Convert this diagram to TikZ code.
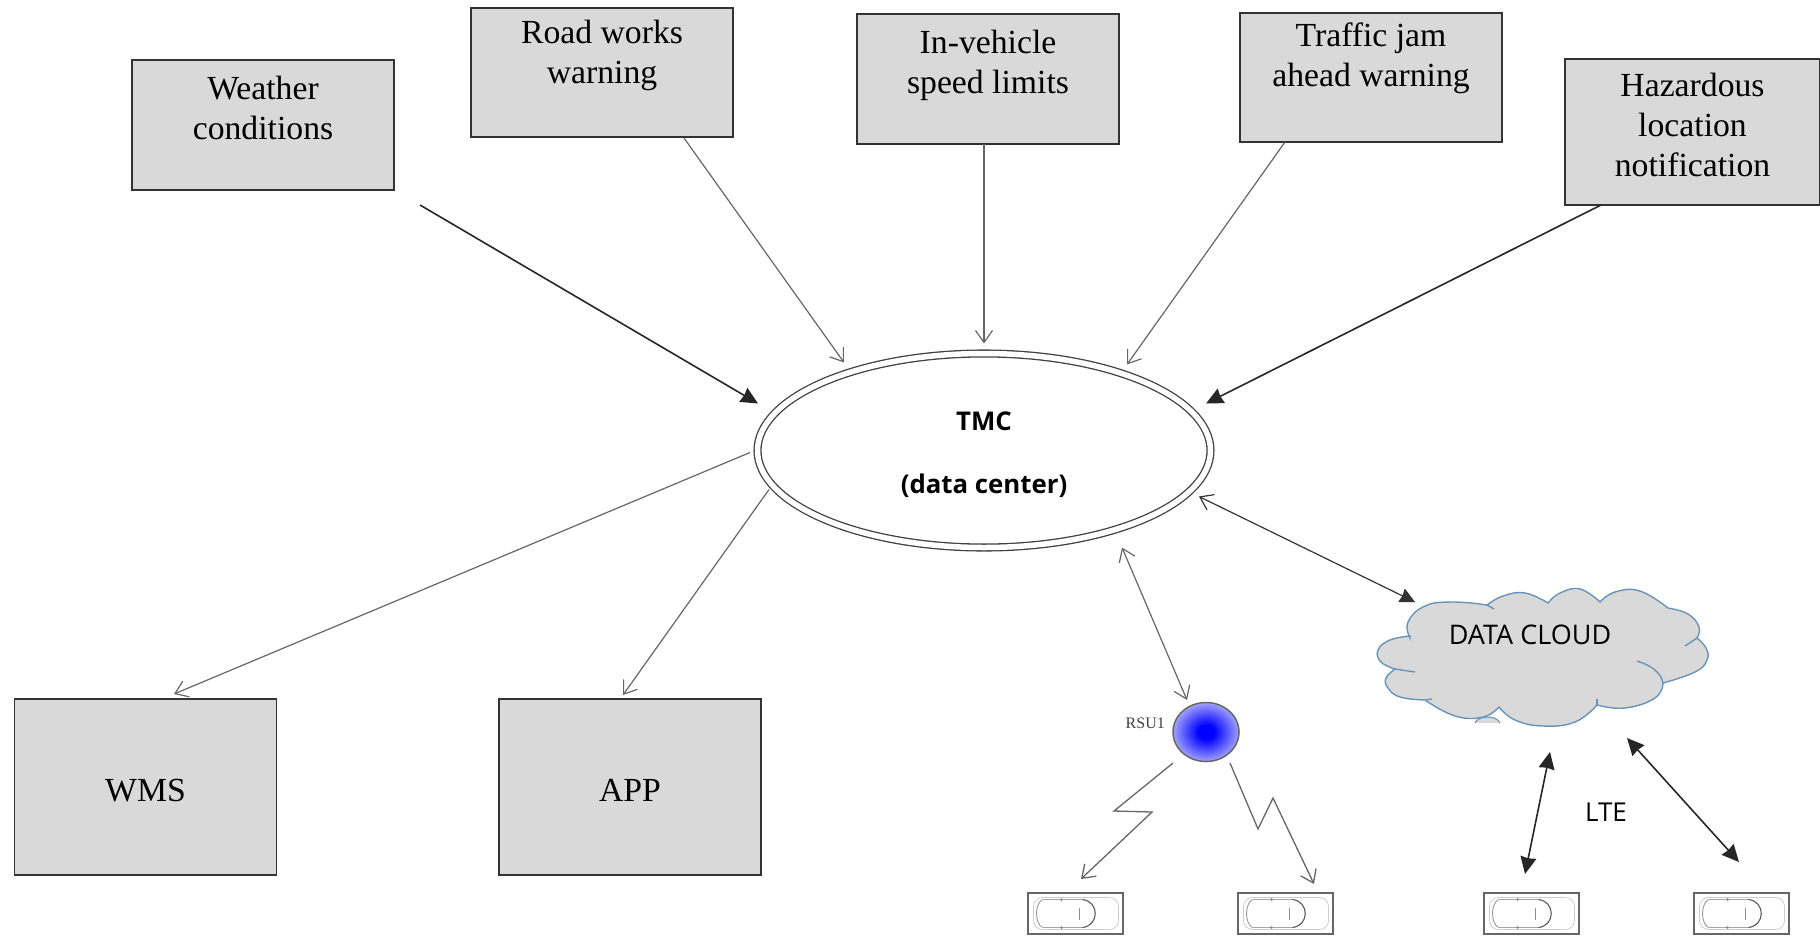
\documentclass[tikz,border=0pt]{standalone}
\usepackage{fontspec}
\setmainfont{Liberation Serif}
\newfontfamily\labelfont{Open Sans}
\usepackage{tikz}
\usetikzlibrary{
  arrows.meta, positioning,
  shapes.geometric
}
\definecolor{boxgray}{HTML}{D9D9D9}
\definecolor{cloudblue}{HTML}{6A93B8}
\definecolor{wiregray}{HTML}{666666}
\pgfdeclareradialshading{rsuglow}{\pgfpointorigin}{
  color(0bp)=(blue); color(6bp)=(blue); color(33bp)=(blue!10!white); color(50bp)=(blue!10!white)}
\tikzset{
  infobox/.style={draw=black!80,fill=boxgray,line width=1.4pt,minimum width=262pt,
    inner sep=0pt,outer sep=0pt,align=center,font=\fontsize{33.7}{40}\selectfont},
  carbox/.style={draw=black!60,fill=white,line width=1.6pt,minimum width=95pt,minimum height=41pt,
    inner sep=0pt,outer sep=0pt},
  thinlink/.style={draw=wiregray,line width=1.2pt,>={Straight Barb[length=12pt,width=17pt]}},
  thicklink/.style={draw=black!85,line width=1.6pt,>={Stealth[length=17pt,width=16pt,inset=1pt]}}
}

\begin{document}
\begin{tikzpicture}[x=1pt,y=-1pt]
      \useasboundingbox (0,0) rectangle (1820,938);
      % top row
      \node[infobox,minimum height=130pt,text depth=35pt] (weather) at (263,125) {Weather\\conditions};
      \node[infobox,minimum height=129pt,text depth=41pt] (road) at (602,72.5) {Road works\\warning};
      \node[infobox,minimum height=130pt,text depth=35pt] (speed) at (988,79) {In-vehicle\\speed limits};
      \node[infobox,minimum height=129pt,text depth=45pt] (jam) at (1371,77.5) {Traffic jam\\ahead warning};
      \node[infobox,minimum width=255pt,minimum height=146pt,text depth=15pt] (hazard) at (1692.5,132) {Hazardous\\location\\notification};
      % bottom row
      \node[infobox,minimum height=176pt,text height=29pt] (wms) at (145.5,787) {WMS};
      \node[infobox,minimum height=176pt,text height=29pt] (app) at (630,787) {APP};
      % center
      \node[ellipse,draw=black!75,double,double distance=5.5pt,line width=1.3pt,minimum width=453pt,minimum height=194pt,
        inner sep=0pt,outer sep=0pt,align=center,text height=90pt,font=\labelfont\bfseries\fontsize{25.8}{63}\selectfont] (tmc) at (984,450.5) {TMC\\(data center)};
      % cloud body, then the label as a node
      \draw[fill=boxgray,draw=cloudblue,line width=1.4pt]
        plot[smooth,tension=.75] coordinates {(1410,638) (1408,622) (1425,606) (1453,602) (1487,605)}
        -- plot[smooth,tension=.75] coordinates {(1487,605) (1503,596) (1525,593) (1548,603)}
        -- plot[smooth,tension=.75] coordinates {(1548,603) (1560,593) (1580,589) (1600,602)}
        -- plot[smooth,tension=.75] coordinates {(1600,602) (1615,592) (1640,591) (1668,608)}
        -- plot[smooth,tension=.75] coordinates {(1668,608) (1688,614) (1699,627) (1697,638)}
        -- plot[smooth,tension=.75] coordinates {(1697,638) (1706,648) (1707,660) (1695,672) (1663,683)}
        -- plot[smooth,tension=.75] coordinates {(1663,683) (1655,698) (1625,708) (1597,705)}
        -- plot[smooth,tension=.75] coordinates {(1597,705) (1575,722) (1543,726) (1515,720) (1499,707)}
        -- plot[smooth,tension=.75] coordinates {(1499,707) (1483,717) (1455,716) (1425,700)}
        -- plot[smooth,tension=.75] coordinates {(1425,700) (1400,697) (1388,688) (1386,678) (1395,669)}
        -- plot[smooth,tension=.75] coordinates {(1395,669) (1381,662) (1378,650) (1390,640) (1410,636)}
        -- cycle;
      \draw[fill=boxgray,draw=cloudblue,line width=1.1pt] (1475,723) .. controls (1478,715) and (1497,715) .. (1500,723);
      \draw[draw=cloudblue,line width=1.4pt] (1637,661) .. controls (1650,665) and (1661,672) .. (1663,683);
      \draw[draw=cloudblue,line width=1.4pt] (1697,638) -- (1685,646);
      \draw[draw=cloudblue,line width=1.4pt] (1597,705) -- (1597,699);
      \draw[draw=cloudblue,line width=1.4pt] (1395,669) -- (1415,672);
      \draw[draw=cloudblue,line width=1.4pt] (1425,700) -- (1432,699);
      \draw[draw=cloudblue,line width=1.4pt] (1487,605) -- (1494,609);
      \node[inner sep=0pt,font=\labelfont\fontsize{27}{30}\selectfont] (cloud) at (1530,635) {DATA CLOUD};
      % roadside unit
      \node[ellipse,shading=rsuglow,draw=black!60,line width=1.5pt,minimum width=66pt,minimum height=59pt,
        inner sep=0pt,outer sep=0pt] (rsu) at (1206,732) {};
      \node[left=8pt of rsu,yshift=9pt,inner sep=0pt,text=black!75,font=\fontsize{16}{18}\selectfont] (rsulabel) {RSU1};
      \node[inner sep=0pt,font=\labelfont\fontsize{26}{30}\selectfont] (lte) at (1606,812) {LTE};
      % cars
      \node[carbox] (car1) at (1075.5,913.5) {};
      \node[carbox] (car2) at (1285.5,913.5) {};
      \node[carbox] (car3) at (1531.5,913.5) {};
      \node[carbox] (car4) at (1741.5,913.5) {};
      \foreach \carname in {car1,car2,car3,car4} {
        \begin{scope}[shift={(\carname.center)}]
          \draw[black!20,line width=.8pt,rounded corners=9pt] (-42,-16) rectangle (43,16);
          \draw[black!35,line width=.9pt] (-33,-14) -- (8,-14) (-33,14) -- (8,14);
          \draw[black!40,line width=.9pt] (-33,-14) .. controls (-41,-10) and (-41,10) .. (-33,14);
          \draw[black!65,line width=1.1pt] (7,-14) .. controls (24,-12) and (24,12) .. (7,14);
          \draw[black!45,line width=.9pt] (4,-6) -- (4,6);
          \fill[black!45] (-14,-14) circle (1.5pt) (-14,14) circle (1.5pt);
        \end{scope}
      }
      % links into the data center
      \draw[thicklink,->] ([shift={(26,15)}]weather.south east) -- ([shift={(-226,-47)}]tmc.center);
      \draw[thinlink,->] ([shift={(82,1)}]road.south) -- ([shift={(-140,-88)}]tmc.center);
      \draw[thinlink,->] ([shift={(-4,0)}]speed.south) -- ([shift={(0,-107)}]tmc.center);
      \draw[thinlink,->] ([shift={(-86,0)}]jam.south) -- ([shift={(143,-86)}]tmc.center);
      \draw[thicklink,->] ([shift={(-91.5,0)}]hazard.south) -- ([shift={(222,-47)}]tmc.center);
      % links out of it
      \draw[thinlink,->] ([shift={(-234,2)}]tmc.center) -- ([shift={(28.5,-5)}]wms.north);
      \draw[thinlink,->] ([shift={(-215,39)}]tmc.center) -- ([shift={(-7,-4)}]app.north);
      \draw[thinlink,<->] ([shift={(138,97)}]tmc.center) -- ([shift={(-19,-32)}]rsu.center);
      \draw[thinlink,{Straight Barb[length=12pt,width=17pt]}-{Stealth[length=15pt,width=15pt,inset=1pt]},draw=black!80]
        ([shift={(215,46)}]tmc.center) -- ([shift={(-115,-33)}]cloud.center);
      % radio links
      \draw[thinlink,->,line width=1.3pt] ([shift={(-33,31)}]rsu.center) -- (1114,811) -- (1152,812) -- ([shift={(5.5,-14)}]car1.north);
      \draw[thinlink,->,line width=1.3pt] ([shift={(24,31)}]rsu.center) -- (1258,829) -- (1273,798) -- ([shift={(28.5,-9)}]car2.north);
      \draw[thicklink,<->] ([shift={(-6.5,-19)}]car3.north) -- ([shift={(20,117)}]cloud.center);
      \draw[thicklink,<->] ([shift={(-2.5,-31)}]car4.north) -- ([shift={(97,103)}]cloud.center);
    \end{tikzpicture}
\end{document}
